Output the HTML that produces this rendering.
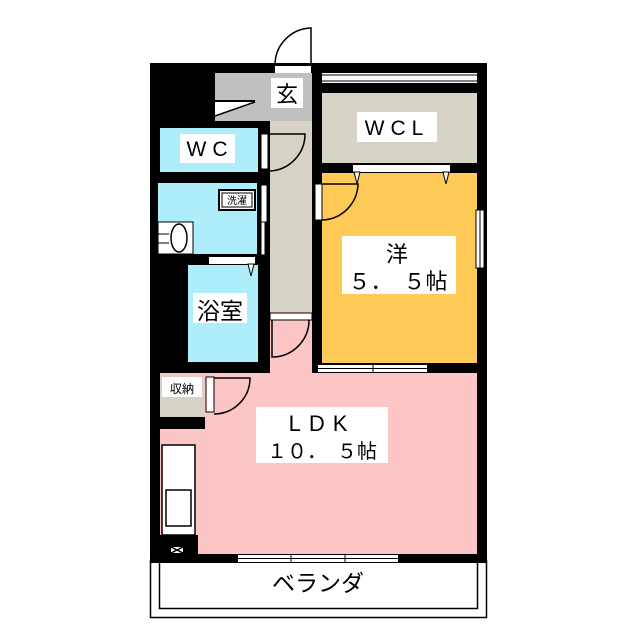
<!DOCTYPE html>
<html><head><meta charset="utf-8"><style>
html,body{margin:0;padding:0;background:#fff}
svg{display:block}
text{font-family:"Liberation Sans","Noto Sans CJK JP",sans-serif;fill:#000}
</style></head><body>
<svg width="640" height="640" viewBox="0 0 640 640" xmlns="http://www.w3.org/2000/svg">
<rect width="640" height="640" fill="#fff"/>
<rect x="150.5" y="560.5" width="336" height="57" fill="#fff" stroke="#000" stroke-width="1.5"/>
<rect x="159.5" y="560.5" width="318" height="48" fill="#fff" stroke="#000" stroke-width="1.5"/>
<rect x="150" y="63" width="337" height="500" fill="#000"/>
<rect x="215" y="73" width="97" height="48" fill="#c0c0c0"/>
<polygon points="215,102 255,102 215,116" fill="#fff"/>
<line x1="215" y1="116" x2="255" y2="102" stroke="#000" stroke-width="1.5"/>
<rect x="215" y="100" width="40" height="2" fill="#000"/>
<rect x="270" y="121" width="42" height="190" fill="#d6d3c6"/>
<rect x="322" y="73" width="155" height="10" fill="#fff"/>
<line x1="322" y1="75" x2="477" y2="75" stroke="#000"/>
<line x1="322" y1="81" x2="477" y2="81" stroke="#000"/>
<rect x="322" y="93" width="155" height="70" fill="#d6d3c6"/>
<rect x="322" y="173" width="155" height="190" fill="#fdc957"/>
<rect x="353" y="165" width="97" height="7" fill="#fff"/>
<polygon points="354,172 360,172 357,184" fill="#fff" stroke="#000"/>
<polygon points="443,172 449,172 446,184" fill="#fff" stroke="#000"/>
<rect x="476" y="210" width="8" height="58" fill="#fff" stroke="#000" stroke-width="1"/>
<line x1="480" y1="210" x2="480" y2="268" stroke="#000"/>
<rect x="160" y="128" width="98" height="44" fill="#aeeefb"/>
<rect x="158" y="183" width="99" height="71" fill="#aeeefb"/>
<rect x="219" y="190" width="36" height="20" fill="#fff" stroke="#000" stroke-width="2"/>
<rect x="222" y="193" width="30" height="14" fill="#fff" stroke="#000" stroke-width="1"/>
<rect x="158" y="222" width="35" height="32" fill="#fff" stroke="#000" stroke-width="1"/>
<ellipse cx="179" cy="238" rx="8" ry="14" fill="#fff" stroke="#000" stroke-width="1.5"/>
<line x1="158" y1="234" x2="169" y2="234" stroke="#000"/>
<line x1="158" y1="243" x2="169" y2="243" stroke="#000"/>
<rect x="188" y="265" width="70" height="97" fill="#aeeefb"/>
<rect x="209" y="257" width="46" height="7" fill="#fff"/>
<polygon points="248,264 254,264 251,276" fill="#fff" stroke="#000"/>
<rect x="160" y="373" width="317" height="181" fill="#fcc6c6"/>
<rect x="270" y="311" width="42" height="62" fill="#fcc6c6"/>
<rect x="215" y="373" width="55" height="5" fill="#fcc6c6"/>
<rect x="270" y="313" width="42" height="7" fill="#fff" stroke="#000" stroke-width="1"/>
<path d="M309,320 A37,37 0 0 1 272,357 L272,320" fill="none" stroke="#000" stroke-width="1.5"/>
<rect x="318" y="365" width="109" height="7" fill="#fff"/>
<line x1="318" y1="368.5" x2="427" y2="368.5" stroke="#000"/>
<line x1="373" y1="365" x2="373" y2="372" stroke="#000"/>
<rect x="160" y="375" width="44" height="42" fill="#d6d3c6"/>
<rect x="206" y="377" width="8" height="35" fill="#fff" stroke="#000" stroke-width="1"/>
<path d="M214,378 L250,378 A36,36 0 0 1 214,414" fill="none" stroke="#000" stroke-width="1.5"/>
<rect x="160" y="417" width="45" height="12" fill="#000"/>
<rect x="162" y="445" width="33" height="90" fill="#fff" stroke="#000" stroke-width="1.5"/>
<rect x="166" y="490" width="25" height="36" fill="#fff" stroke="#000" stroke-width="1.5"/>
<rect x="160" y="535" width="38" height="20" fill="#000"/>
<rect x="171" y="547" width="12" height="6" fill="#fff"/>
<path d="M171,547 L183,553 M183,547 L171,553" stroke="#000" stroke-width="1.5"/>
<rect x="238" y="555" width="160" height="7" fill="#fff"/>
<line x1="238" y1="558.5" x2="398" y2="558.5" stroke="#000"/>
<line x1="291" y1="555" x2="291" y2="562" stroke="#000"/>
<line x1="345" y1="555" x2="345" y2="562" stroke="#000"/>
<rect x="275" y="66" width="36" height="7" fill="#fff"/>
<path d="M275,65 A37,37 0 0 1 311,28 L311,65" fill="none" stroke="#000" stroke-width="1.5"/>
<rect x="261" y="134" width="7" height="35" fill="#fff" stroke="#000" stroke-width="1"/>
<path d="M268,134 L305,134 A37,37 0 0 1 268,171" fill="none" stroke="#000" stroke-width="1.5"/>
<rect x="261" y="185" width="6" height="37" fill="#fff" stroke="#000" stroke-width="1"/>
<rect x="261" y="222" width="4" height="33" fill="#fff" stroke="#000" stroke-width="1"/>
<rect x="315" y="184" width="7" height="36" fill="#fff" stroke="#000" stroke-width="1"/>
<path d="M322,184 L358,184 A37,37 0 0 1 322,220" fill="none" stroke="#000" stroke-width="1.5"/>
<rect x="271" y="78" width="32" height="30" fill="#fff"/>
<text x="287" y="102" font-size="22" text-anchor="middle">玄</text>
<rect x="357" y="112" width="80" height="30" fill="#fff"/>
<text x="397" y="135" font-size="21" text-anchor="middle" letter-spacing="6">WCL</text>
<rect x="180" y="134" width="55" height="29" fill="#fff"/>
<text x="210" y="156" font-size="21" text-anchor="middle" letter-spacing="6">WC</text>
<text x="237" y="204" font-size="10" text-anchor="middle">洗濯</text>
<rect x="193" y="293" width="54" height="30" fill="#fff"/>
<text x="220" y="319" font-size="23" text-anchor="middle">浴室</text>
<rect x="342" y="236" width="114" height="58" fill="#fff"/>
<text x="397" y="262" font-size="22" text-anchor="middle">洋</text>
<text x="398" y="289" font-size="22" text-anchor="middle">５．　５帖</text>
<rect x="162" y="377" width="40" height="20" fill="#fff"/>
<text x="182" y="393" font-size="12" text-anchor="middle">収納</text>
<rect x="256" y="407" width="132" height="56" fill="#fff"/>
<text x="322" y="431" font-size="22" text-anchor="middle" letter-spacing="8">LDK</text>
<text x="322" y="458" font-size="20" text-anchor="middle">１０．　５帖</text>
<text x="318" y="591" font-size="23" text-anchor="middle">ベランダ</text>
</svg>
</body></html>
